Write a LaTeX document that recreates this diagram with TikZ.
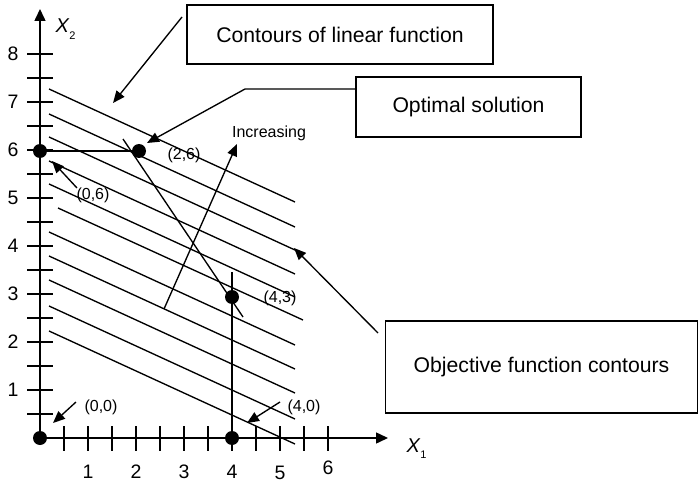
\documentclass[tikz,border=0pt]{standalone}
\usepackage{fontspec}
\setmainfont{Liberation Sans}
\usetikzlibrary{arrows.meta}
\begin{document}
\begin{tikzpicture}[x=1pt,y=-1pt,line width=1.35pt,
  arr/.style={-{Triangle[length=12pt,width=10pt]}},
  axarr/.style={line width=1.5pt,-{Triangle[length=12pt,width=11pt]}},
  dot/.style={circle,fill=black,inner sep=0pt,minimum size=14pt},
  box/.style={draw,line width=1.4pt,inner sep=0pt,font=\fontsize{21.2}{25}\selectfont},
  lab/.style={font=\fontsize{16}{19}\selectfont,inner sep=0pt},
  num/.style={font=\fontsize{19.5}{23}\selectfont,inner sep=0pt}]
\useasboundingbox (0,0) rectangle (699,484);
% axes
\coordinate (O) at (40,438);
\coordinate (xend) at (388,438);
\coordinate (yend) at (40,9);
\draw[axarr] (O) -- (xend);
\draw[axarr] (O) -- (yend);
\foreach \k in {1,...,12} \draw ({40+24*\k},426) -- ({40+24*\k},451);
\foreach \k in {1,...,16} \draw (27,{438-24*\k}) -- (53,{438-24*\k});
\foreach \k in {1,...,8} \node[num] (ny\k) at (13,{438-48*\k}) {\k};
\foreach \k/\yy in {1/472,2/472,3/472,4/472,5/473,6/468} \node[num] (nx\k) at ({40+48*\k},\yy) {\k};
\node[anchor=base west,inner sep=0pt] (lx2) at (55,33) {\fontsize{20}{20}\selectfont\itshape X\kern0.3pt\raisebox{-7pt}{\fontsize{11}{11}\selectfont\upshape 2}};
\node[anchor=base west,inner sep=0pt] (lx1) at (406,452) {\fontsize{20}{20}\selectfont\itshape X\kern0.3pt\raisebox{-6pt}{\fontsize{11}{11}\selectfont\upshape 1}};
% contour lines
\foreach \ly/\lx/\ry/\rx in {89/49/202/295,114/49/227/295,137/49/250/295,161/49/274/295,184/49/297/295,208/58/320/303,232/49/345/295,256/49/369/295,280/49/393/295,306/49/419/295,331/49/444/295}
  \draw (\lx,\ly) -- (\rx,\ry);
% points
\coordinate (c00) at (40,438);
\coordinate (c06) at (40,151);
\coordinate (c26) at (139,151);
\coordinate (c43) at (232,297);
\coordinate (c40) at (232,438);
\coordinate (vtop) at (232,272);
\coordinate (k1) at (123,139);
\coordinate (k2) at (243,317);
\draw (c06) -- (c26);
\draw (vtop) -- (c40);
\draw (k1) -- (k2);
\node[dot] (p00) at (c00) {};
\node[dot] (p06) at (c06) {};
\node[dot] (p26) at (c26) {};
\node[dot] (p43) at (c43) {};
\node[dot] (p40) at (c40) {};
% point labels
\node[lab] (l26) at (184,155) {(2,6)};
\node[lab] (l06) at (93,195) {(0,6)};
\node[lab] (l43) at (280,298) {(4,3)};
\node[lab] (l00) at (101,407) {(0,0)};
\node[lab] (l40) at (304,407) {(4,0)};
\node[lab] (linc) at (269,133) {Increasing};
% boxes
\node[box,minimum width=306pt,minimum height=59pt] (b1) at (340,34.5) {Contours of linear function};
\node[box,minimum width=225pt,minimum height=60pt] (b2) at (468.5,107) {Optimal solution};
\node[box,minimum width=312pt,minimum height=92pt] (b3) at (541.5,367) {Objective function contours};
% arrows
\coordinate (a1s) at (182,17);  \coordinate (a1e) at (113,103);
\draw[arr] (a1s) -- (a1e);
\coordinate (a2s) at (356,89); \coordinate (a2m) at (245,89); \coordinate (a2e) at (147,143);
\draw[arr] (a2s) -- (a2m) -- (a2e);
\coordinate (a3s) at (378,333); \coordinate (a3e) at (294,248);
\draw[arr] (a3s) -- (a3e);
\coordinate (a4s) at (164,309); \coordinate (a4e) at (237,144);
\draw[arr] (a4s) -- (a4e);
\coordinate (a5s) at (77,188); \coordinate (a5e) at (52,161);
\draw[arr] (a5s) -- (a5e);
\coordinate (a6s) at (76,402); \coordinate (a6e) at (53,423);
\draw[arr] (a6s) -- (a6e);
\coordinate (a7s) at (280,402); \coordinate (a7e) at (247,423);
\draw[arr] (a7s) -- (a7e);
\end{tikzpicture}
\end{document}
